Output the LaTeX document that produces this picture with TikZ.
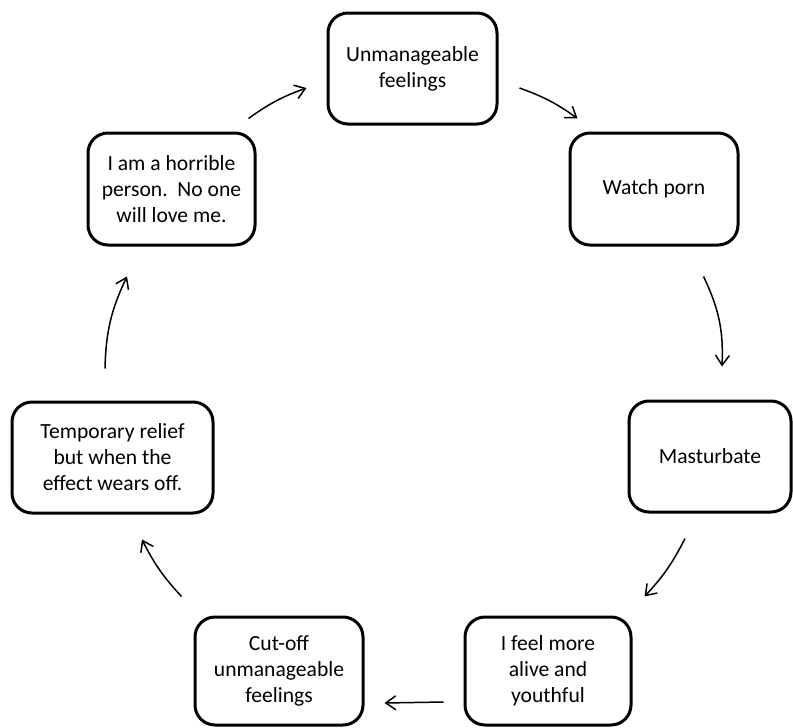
\documentclass[tikz,border=0pt]{standalone}
\usepackage{fontspec}
\setmainfont{Carlito}
\usetikzlibrary{positioning, arrows.meta, calc}

\begin{document}
\begin{tikzpicture}[x=0.5pt, y=-0.5pt]
		% Define styles
		\tikzset{
			block/.style={rectangle, draw, line width=1.5pt, rounded corners=10pt, align=center, font=\fontsize{10.8}{13}\selectfont, inner sep=2pt},
			line/.style={draw, line width=0.75pt, -{Straight Barb[length=5pt, width=7pt]}}
		}
		\useasboundingbox (0,0) rectangle (793,728);
		
		% Nodes
		\node[block, minimum width=84.5pt, minimum height=55.5pt] (feel) at (412.5,68.5) {Unmanageable\\feelings};
		\node[block, minimum width=84pt, minimum height=56pt] (porn) at (654,189) {Watch porn};
		\node[block, minimum width=81pt, minimum height=55.5pt] (mast) at (710,456.5) {Masturbate};
		\node[block, minimum width=83pt, minimum height=54pt] (alive) at (548,671) {I feel more\\alive and\\youthful};
		\node[block, minimum width=84pt, minimum height=54pt] (cut) at (279,671) {Cut-off\\unmanageable\\feelings};
		\node[block, minimum width=100.5pt, minimum height=55.5pt] (relief) at (112.5,457.5) {Temporary relief\\but when the\\effect wears off.};
		\node[block, minimum width=83.5pt, minimum height=56pt] (bad) at (171.5,189) {I am a horrible\\person.\ \ No one\\will love me.};
		
		% Arrows
		\draw[line] ($(feel.east)+(21,19.5)$) to[bend left=8] ($(porn.north west)+(9,-13)$);
		\draw[line] ($(porn.south east)+(-36,30)$) to[bend left=14] ($(mast.north)+(12,-33)$);
		\draw[line] ($(mast.south)+(-25,25)$) to[bend left=8] ($(alive.north east)+(12,-19)$);
		\draw[line] ($(alive.west)+(-20,31)$) -- ($(cut.east)+(20,32)$);
		\draw[line] ($(cut.north west)+(-12,-19)$) to[bend left=8] ($(relief.south)+(29.5,25)$);
		\draw[line] ($(relief.north)+(-7.5,-32)$) to[bend left=12] ($(bad.south)+(-44.5,30)$);
		\draw[line] ($(bad.north east)+(-8,-13)$) to[bend left=8] ($(feel.west)+(-20,19.5)$);
	\end{tikzpicture}
\end{document}
